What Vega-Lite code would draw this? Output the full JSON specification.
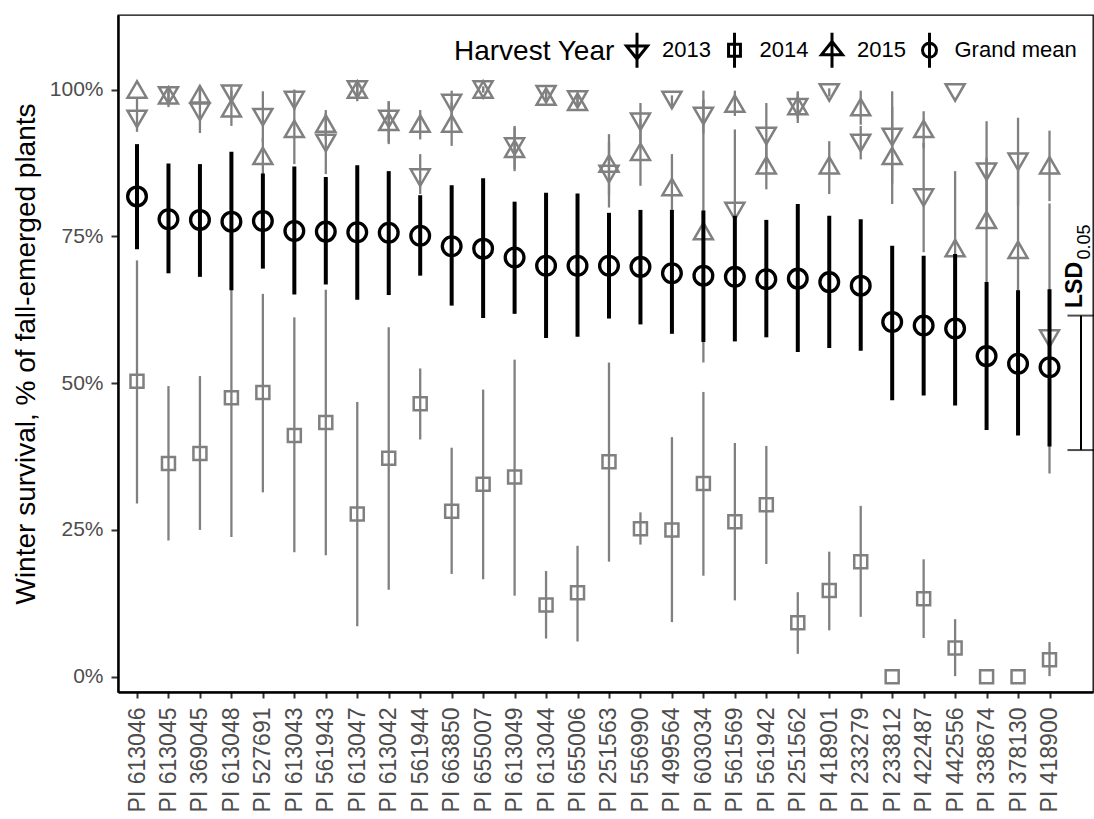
{
  "$schema": "https://vega.github.io/schema/vega-lite/v6.json",
  "width": 975,
  "height": 677,
  "autosize": {"type": "none"},
  "padding": {"left": 118, "top": 15, "right": 1, "bottom": 127},
  "background": "white",
  "config": {
    "font": "Liberation Sans",
    "view": {"stroke": "black", "strokeWidth": 1.3},
    "axis": {"grid": false, "domainColor": "black", "domainWidth": 2.5, "tickColor": "#333333", "tickWidth": 2, "labelColor": "#4D4D4D", "titleColor": "black", "titleFontWeight": "normal"},
    "axisX": {"labelAngle": -90, "labelAlign": "right", "labelBaseline": "middle", "labelFontSize": 23, "tickSize": 6, "labelPadding": 9},
    "axisY": {"labelFontSize": 21, "tickSize": 7, "labelPadding": 8, "titleFontSize": 28, "titlePadding": 9}
  },
  "datasets": {
    "pts": [
      {"pos":1,"acc":"PI 613046","series":"2013","v":95.0,"lo":92.8,"hi":98.5},
      {"pos":1,"acc":"PI 613046","series":"2014","v":50.3,"lo":29.5,"hi":70.9},
      {"pos":1,"acc":"PI 613046","series":"2015","v":100,"lo":100,"hi":100},
      {"pos":1,"acc":"PI 613046","series":"Grand mean","v":81.8,"lo":72.8,"hi":90.7},
      {"pos":2,"acc":"PI 613045","series":"2013","v":99.0,"lo":97.0,"hi":100.5},
      {"pos":2,"acc":"PI 613045","series":"2014","v":36.3,"lo":23.2,"hi":49.5},
      {"pos":2,"acc":"PI 613045","series":"2015","v":99.0,"lo":97.5,"hi":100.3},
      {"pos":2,"acc":"PI 613045","series":"Grand mean","v":77.9,"lo":68.7,"hi":87.4},
      {"pos":3,"acc":"PI 369045","series":"2013","v":96.2,"lo":92.6,"hi":99.8},
      {"pos":3,"acc":"PI 369045","series":"2014","v":38.0,"lo":25.0,"hi":51.2},
      {"pos":3,"acc":"PI 369045","series":"2015","v":99.2,"lo":97.5,"hi":100.6},
      {"pos":3,"acc":"PI 369045","series":"Grand mean","v":77.8,"lo":68.1,"hi":87.3},
      {"pos":4,"acc":"PI 613048","series":"2013","v":99.3,"lo":98.0,"hi":100.5},
      {"pos":4,"acc":"PI 613048","series":"2014","v":47.5,"lo":23.8,"hi":71.2},
      {"pos":4,"acc":"PI 613048","series":"2015","v":96.8,"lo":93.8,"hi":99.8},
      {"pos":4,"acc":"PI 613048","series":"Grand mean","v":77.5,"lo":65.8,"hi":89.4},
      {"pos":5,"acc":"PI 527691","series":"2013","v":95.3,"lo":91.0,"hi":99.7},
      {"pos":5,"acc":"PI 527691","series":"2014","v":48.4,"lo":31.4,"hi":65.2},
      {"pos":5,"acc":"PI 527691","series":"2015","v":88.7,"lo":85.6,"hi":91.8},
      {"pos":5,"acc":"PI 527691","series":"Grand mean","v":77.6,"lo":69.5,"hi":85.7},
      {"pos":6,"acc":"PI 613043","series":"2013","v":98.2,"lo":96.5,"hi":100.0},
      {"pos":6,"acc":"PI 613043","series":"2014","v":41.1,"lo":21.2,"hi":61.2},
      {"pos":6,"acc":"PI 613043","series":"2015","v":93.3,"lo":87.3,"hi":99.3},
      {"pos":6,"acc":"PI 613043","series":"Grand mean","v":75.9,"lo":65.1,"hi":86.9},
      {"pos":7,"acc":"PI 561943","series":"2013","v":90.9,"lo":85.6,"hi":96.0},
      {"pos":7,"acc":"PI 561943","series":"2014","v":43.3,"lo":20.7,"hi":65.9},
      {"pos":7,"acc":"PI 561943","series":"2015","v":94.2,"lo":91.5,"hi":96.5},
      {"pos":7,"acc":"PI 561943","series":"Grand mean","v":75.8,"lo":66.8,"hi":85.1},
      {"pos":8,"acc":"PI 613047","series":"2013","v":100,"lo":98.0,"hi":101.5},
      {"pos":8,"acc":"PI 613047","series":"2014","v":27.7,"lo":8.6,"hi":46.8},
      {"pos":8,"acc":"PI 613047","series":"2015","v":100,"lo":98.5,"hi":101.0},
      {"pos":8,"acc":"PI 613047","series":"Grand mean","v":75.7,"lo":64.2,"hi":87.1},
      {"pos":9,"acc":"PI 613042","series":"2013","v":95.0,"lo":91.0,"hi":98.0},
      {"pos":9,"acc":"PI 613042","series":"2014","v":37.2,"lo":14.8,"hi":59.5},
      {"pos":9,"acc":"PI 613042","series":"2015","v":94.5,"lo":90.7,"hi":98.0},
      {"pos":9,"acc":"PI 613042","series":"Grand mean","v":75.6,"lo":65.0,"hi":86.1},
      {"pos":10,"acc":"PI 561944","series":"2013","v":85.0,"lo":82.2,"hi":89.0},
      {"pos":10,"acc":"PI 561944","series":"2014","v":46.5,"lo":40.4,"hi":52.5},
      {"pos":10,"acc":"PI 561944","series":"2015","v":94.2,"lo":91.5,"hi":96.5},
      {"pos":10,"acc":"PI 561944","series":"Grand mean","v":75.1,"lo":68.3,"hi":82.0},
      {"pos":11,"acc":"PI 663850","series":"2013","v":97.7,"lo":95.5,"hi":99.8},
      {"pos":11,"acc":"PI 663850","series":"2014","v":28.2,"lo":17.5,"hi":39.0},
      {"pos":11,"acc":"PI 663850","series":"2015","v":94.2,"lo":90.4,"hi":97.8},
      {"pos":11,"acc":"PI 663850","series":"Grand mean","v":73.3,"lo":63.2,"hi":83.7},
      {"pos":12,"acc":"PI 655007","series":"2013","v":100,"lo":99.5,"hi":100.5},
      {"pos":12,"acc":"PI 655007","series":"2014","v":32.8,"lo":16.6,"hi":48.9},
      {"pos":12,"acc":"PI 655007","series":"2015","v":100,"lo":99.5,"hi":100.5},
      {"pos":12,"acc":"PI 655007","series":"Grand mean","v":72.9,"lo":61.1,"hi":84.9},
      {"pos":13,"acc":"PI 613049","series":"2013","v":90.3,"lo":86.1,"hi":93.8},
      {"pos":13,"acc":"PI 613049","series":"2014","v":34.0,"lo":13.8,"hi":54.0},
      {"pos":13,"acc":"PI 613049","series":"2015","v":89.9,"lo":86.5,"hi":93.5},
      {"pos":13,"acc":"PI 613049","series":"Grand mean","v":71.4,"lo":61.8,"hi":80.9},
      {"pos":14,"acc":"PI 613044","series":"2013","v":99.2,"lo":98.0,"hi":100.0},
      {"pos":14,"acc":"PI 613044","series":"2014","v":12.2,"lo":6.5,"hi":18.0},
      {"pos":14,"acc":"PI 613044","series":"2015","v":98.8,"lo":98.0,"hi":99.8},
      {"pos":14,"acc":"PI 613044","series":"Grand mean","v":70.0,"lo":57.7,"hi":82.4},
      {"pos":15,"acc":"PI 655006","series":"2013","v":98.3,"lo":97.0,"hi":99.5},
      {"pos":15,"acc":"PI 655006","series":"2014","v":14.3,"lo":6.0,"hi":22.3},
      {"pos":15,"acc":"PI 655006","series":"2015","v":97.9,"lo":97.0,"hi":99.0},
      {"pos":15,"acc":"PI 655006","series":"Grand mean","v":70.0,"lo":57.9,"hi":82.3},
      {"pos":16,"acc":"PI 251563","series":"2013","v":85.6,"lo":79.9,"hi":91.0},
      {"pos":16,"acc":"PI 251563","series":"2014","v":36.6,"lo":19.6,"hi":53.5},
      {"pos":16,"acc":"PI 251563","series":"2015","v":87.4,"lo":82.0,"hi":92.4},
      {"pos":16,"acc":"PI 251563","series":"Grand mean","v":70.0,"lo":61.0,"hi":79.0},
      {"pos":17,"acc":"PI 556990","series":"2013","v":94.5,"lo":91.0,"hi":97.7},
      {"pos":17,"acc":"PI 556990","series":"2014","v":25.2,"lo":22.5,"hi":28.0},
      {"pos":17,"acc":"PI 556990","series":"2015","v":89.4,"lo":83.6,"hi":95.0},
      {"pos":17,"acc":"PI 556990","series":"Grand mean","v":69.8,"lo":60.0,"hi":79.5},
      {"pos":18,"acc":"PI 499564","series":"2013","v":98.2,"lo":97.0,"hi":99.0},
      {"pos":18,"acc":"PI 499564","series":"2014","v":25.0,"lo":9.3,"hi":40.8},
      {"pos":18,"acc":"PI 499564","series":"2015","v":83.4,"lo":77.8,"hi":89.0},
      {"pos":18,"acc":"PI 499564","series":"Grand mean","v":68.7,"lo":58.4,"hi":79.5},
      {"pos":19,"acc":"PI 603034","series":"2013","v":95.5,"lo":92.5,"hi":99.8},
      {"pos":19,"acc":"PI 603034","series":"2014","v":32.9,"lo":17.2,"hi":48.5},
      {"pos":19,"acc":"PI 603034","series":"2015","v":75.9,"lo":53.5,"hi":98.3},
      {"pos":19,"acc":"PI 603034","series":"Grand mean","v":68.3,"lo":57.0,"hi":79.4},
      {"pos":20,"acc":"PI 561569","series":"2013","v":79.3,"lo":65.4,"hi":93.2},
      {"pos":20,"acc":"PI 561569","series":"2014","v":26.4,"lo":13.0,"hi":39.8},
      {"pos":20,"acc":"PI 561569","series":"2015","v":97.6,"lo":95.5,"hi":99.8},
      {"pos":20,"acc":"PI 561569","series":"Grand mean","v":68.1,"lo":57.1,"hi":78.5},
      {"pos":21,"acc":"PI 561942","series":"2013","v":92.1,"lo":86.5,"hi":97.7},
      {"pos":21,"acc":"PI 561942","series":"2014","v":29.3,"lo":19.2,"hi":39.3},
      {"pos":21,"acc":"PI 561942","series":"2015","v":87.1,"lo":83.0,"hi":91.5},
      {"pos":21,"acc":"PI 561942","series":"Grand mean","v":67.7,"lo":57.8,"hi":77.8},
      {"pos":22,"acc":"PI 251562","series":"2013","v":97.0,"lo":94.3,"hi":99.7},
      {"pos":22,"acc":"PI 251562","series":"2014","v":9.2,"lo":3.9,"hi":14.4},
      {"pos":22,"acc":"PI 251562","series":"2015","v":97.2,"lo":95.0,"hi":99.5},
      {"pos":22,"acc":"PI 251562","series":"Grand mean","v":67.8,"lo":55.3,"hi":80.5},
      {"pos":23,"acc":"PI 418901","series":"2013","v":99.5,"lo":98.8,"hi":100.2},
      {"pos":23,"acc":"PI 418901","series":"2014","v":14.7,"lo":7.9,"hi":21.3},
      {"pos":23,"acc":"PI 418901","series":"2015","v":87.1,"lo":82.2,"hi":91.2},
      {"pos":23,"acc":"PI 418901","series":"Grand mean","v":67.2,"lo":56.0,"hi":78.5},
      {"pos":24,"acc":"PI 233279","series":"2013","v":90.9,"lo":88.1,"hi":93.8},
      {"pos":24,"acc":"PI 233279","series":"2014","v":19.6,"lo":10.2,"hi":29.1},
      {"pos":24,"acc":"PI 233279","series":"2015","v":97.0,"lo":94.0,"hi":99.8},
      {"pos":24,"acc":"PI 233279","series":"Grand mean","v":66.6,"lo":55.5,"hi":77.9},
      {"pos":25,"acc":"PI 233812","series":"2013","v":91.9,"lo":84.0,"hi":99.7},
      {"pos":25,"acc":"PI 233812","series":"2014","v":0,"lo":0,"hi":0},
      {"pos":25,"acc":"PI 233812","series":"2015","v":88.7,"lo":80.5,"hi":97.0},
      {"pos":25,"acc":"PI 233812","series":"Grand mean","v":60.4,"lo":47.1,"hi":73.4},
      {"pos":26,"acc":"PI 422487","series":"2013","v":81.6,"lo":72.3,"hi":90.9},
      {"pos":26,"acc":"PI 422487","series":"2014","v":13.3,"lo":6.6,"hi":20.0},
      {"pos":26,"acc":"PI 422487","series":"2015","v":93.3,"lo":90.0,"hi":96.3},
      {"pos":26,"acc":"PI 422487","series":"Grand mean","v":59.8,"lo":47.9,"hi":71.7},
      {"pos":27,"acc":"PI 442556","series":"2013","v":99.5,"lo":99.5,"hi":99.5},
      {"pos":27,"acc":"PI 442556","series":"2014","v":4.9,"lo":0.1,"hi":9.8},
      {"pos":27,"acc":"PI 442556","series":"2015","v":73.0,"lo":59.9,"hi":86.1},
      {"pos":27,"acc":"PI 442556","series":"Grand mean","v":59.3,"lo":46.2,"hi":72.0},
      {"pos":28,"acc":"PI 338674","series":"2013","v":86.0,"lo":77.5,"hi":94.6},
      {"pos":28,"acc":"PI 338674","series":"2014","v":0,"lo":0,"hi":0},
      {"pos":28,"acc":"PI 338674","series":"2015","v":77.8,"lo":67.2,"hi":88.4},
      {"pos":28,"acc":"PI 338674","series":"Grand mean","v":54.6,"lo":42.0,"hi":67.2},
      {"pos":29,"acc":"PI 378130","series":"2013","v":87.7,"lo":80.2,"hi":95.2},
      {"pos":29,"acc":"PI 378130","series":"2014","v":0,"lo":0,"hi":0},
      {"pos":29,"acc":"PI 378130","series":"2015","v":72.7,"lo":59.0,"hi":86.4},
      {"pos":29,"acc":"PI 378130","series":"Grand mean","v":53.3,"lo":41.1,"hi":65.8},
      {"pos":30,"acc":"PI 418900","series":"2013","v":57.6,"lo":34.6,"hi":80.6},
      {"pos":30,"acc":"PI 418900","series":"2014","v":2.9,"lo":0.1,"hi":5.9},
      {"pos":30,"acc":"PI 418900","series":"2015","v":87.1,"lo":81.0,"hi":93.0},
      {"pos":30,"acc":"PI 418900","series":"Grand mean","v":52.7,"lo":39.2,"hi":66.0}
    ],
    "lsd": [{"pos": 31, "lo": 38.6, "hi": 61.5, "label": "LSD", "sub": "0.05"}]
  },
  "encoding": {
    "x": {
      "field": "pos", "type": "quantitative",
      "scale": {"domain": [0.396, 31.382], "nice": false, "zero": false},
      "axis": {
        "title": null,
        "values": [1,2,3,4,5,6,7,8,9,10,11,12,13,14,15,16,17,18,19,20,21,22,23,24,25,26,27,28,29,30],
        "labelExpr": "['PI 613046','PI 613045','PI 369045','PI 613048','PI 527691','PI 613043','PI 561943','PI 613047','PI 613042','PI 561944','PI 663850','PI 655007','PI 613049','PI 613044','PI 655006','PI 251563','PI 556990','PI 499564','PI 603034','PI 561569','PI 561942','PI 251562','PI 418901','PI 233279','PI 233812','PI 422487','PI 442556','PI 338674','PI 378130','PI 418900'][datum.value - 1]"
      }
    }
  },
  "layer": [
    {
      "data": {"name": "pts"},
      "mark": {"type": "point", "filled": false, "opacity": 0, "color": "black"},
      "encoding": {
        "y": {"field": "v", "type": "quantitative", "scale": {"domain": [-2.6, 112.69], "nice": false, "zero": false}, "axis": {"title": "Winter survival, % of fall-emerged plants", "values": [0,25,50,75,100], "labelExpr": "datum.value + '%'"}},
        "shape": {
          "field": "series", "type": "nominal",
          "scale": {
            "domain": ["2013", "2014", "2015", "Grand mean"],
            "range": [
              "M0,-1L0,1M-0.6,-0.25L0.6,-0.25L0,0.5Z",
              "M0,-1L0,1M-0.34,-0.34L0.34,-0.34L0.34,0.34L-0.34,0.34Z",
              "M0,-1L0,1M-0.6,0.25L0.6,0.25L0,-0.5Z",
              "M0,-1L0,1M-0.4,0A0.4,0.4 0 1,1 0.4,0A0.4,0.4 0 1,1 -0.4,0Z"
            ]
          },
          "legend": {
            "title": "Harvest Year",
            "orient": "top-right",
            "direction": "horizontal",
            "titleOrient": "left",
            "titleFontSize": 28,
            "titleFontWeight": "normal",
            "titleColor": "black",
            "titleAnchor": "middle",
            "titleBaseline": "middle",
            "titlePadding": 3,
            "labelFontSize": 22,
            "labelColor": "black",
            "labelOffset": 6,
            "columnPadding": 4.5,
            "symbolSize": 1225,
            "symbolStrokeWidth": 3,
            "symbolStrokeColor": "black",
            "symbolOpacity": 1,
            "offset": 16,
            "padding": 0,
            "encode": {"symbols": {"update": {"opacity": {"value": 1}, "stroke": {"value": "black"}, "strokeWidth": {"value": 3}}}}
          }
        }
      }
    },
    {
      "data": {"name": "pts"},
      "transform": [{"filter": "datum.series != 'Grand mean'"}],
      "mark": {"type": "rule", "color": "#808080", "strokeWidth": 2.3},
      "encoding": {
        "y": {"field": "lo", "type": "quantitative", "scale": {"domain": [-2.6, 112.69], "nice": false, "zero": false}, "axis": {"title": "Winter survival, % of fall-emerged plants", "values": [0,25,50,75,100], "labelExpr": "datum.value + '%'"}},
        "y2": {"field": "hi"}
      }
    },
    {
      "data": {"name": "pts"},
      "transform": [{"filter": "datum.series == '2013' || datum.series == '2015'"}],
      "mark": {"type": "point", "filled": false, "color": "#808080", "strokeWidth": 2.5, "size": 361, "opacity": 1},
      "encoding": {
        "y": {"field": "v", "type": "quantitative", "scale": {"domain": [-2.6, 112.69], "nice": false, "zero": false}, "axis": {"title": "Winter survival, % of fall-emerged plants", "values": [0,25,50,75,100], "labelExpr": "datum.value + '%'"}},
        "shape": {"field": "series", "type": "nominal", "scale": {"domain": ["2013", "2015"], "range": ["triangle-down", "triangle-up"]}, "legend": null}
      }
    },
    {
      "data": {"name": "pts"},
      "transform": [{"filter": "datum.series == '2014'"}],
      "mark": {"type": "point", "shape": "square", "filled": false, "color": "#808080", "strokeWidth": 2.5, "size": 169, "opacity": 1},
      "encoding": {
        "y": {"field": "v", "type": "quantitative", "scale": {"domain": [-2.6, 112.69], "nice": false, "zero": false}, "axis": {"title": "Winter survival, % of fall-emerged plants", "values": [0,25,50,75,100], "labelExpr": "datum.value + '%'"}}
      }
    },
    {
      "data": {"name": "pts"},
      "transform": [{"filter": "datum.series == 'Grand mean'"}],
      "mark": {"type": "rule", "color": "black", "strokeWidth": 4},
      "encoding": {
        "y": {"field": "lo", "type": "quantitative", "scale": {"domain": [-2.6, 112.69], "nice": false, "zero": false}, "axis": {"title": "Winter survival, % of fall-emerged plants", "values": [0,25,50,75,100], "labelExpr": "datum.value + '%'"}},
        "y2": {"field": "hi"}
      }
    },
    {
      "data": {"name": "pts"},
      "transform": [{"filter": "datum.series == 'Grand mean'"}],
      "mark": {"type": "point", "shape": "circle", "filled": false, "color": "black", "strokeWidth": 3.3, "size": 350, "opacity": 1},
      "encoding": {
        "y": {"field": "v", "type": "quantitative", "scale": {"domain": [-2.6, 112.69], "nice": false, "zero": false}, "axis": {"title": "Winter survival, % of fall-emerged plants", "values": [0,25,50,75,100], "labelExpr": "datum.value + '%'"}}
      }
    },
    {
      "data": {"name": "lsd"},
      "mark": {"type": "rule", "color": "black", "strokeWidth": 2},
      "encoding": {
        "y": {"field": "lo", "type": "quantitative", "scale": {"domain": [-2.6, 112.69], "nice": false, "zero": false}, "axis": {"title": "Winter survival, % of fall-emerged plants", "values": [0,25,50,75,100], "labelExpr": "datum.value + '%'"}},
        "y2": {"field": "hi"}
      }
    },
    {
      "data": {"name": "lsd"},
      "mark": {"type": "tick", "orient": "horizontal", "color": "black", "size": 27, "thickness": 2},
      "encoding": {
        "y": {"field": "lo", "type": "quantitative", "scale": {"domain": [-2.6, 112.69], "nice": false, "zero": false}, "axis": {"title": "Winter survival, % of fall-emerged plants", "values": [0,25,50,75,100], "labelExpr": "datum.value + '%'"}}
      }
    },
    {
      "data": {"name": "lsd"},
      "mark": {"type": "tick", "orient": "horizontal", "color": "black", "size": 27, "thickness": 2},
      "encoding": {
        "y": {"field": "hi", "type": "quantitative", "scale": {"domain": [-2.6, 112.69], "nice": false, "zero": false}, "axis": {"title": "Winter survival, % of fall-emerged plants", "values": [0,25,50,75,100], "labelExpr": "datum.value + '%'"}}
      }
    },
    {
      "data": {"name": "lsd"},
      "mark": {"type": "text", "angle": 270, "align": "left", "baseline": "alphabetic", "dx": 7.6, "dy": 1, "fontSize": 23, "fontWeight": "bold", "color": "black"},
      "encoding": {
        "y": {"field": "hi", "type": "quantitative", "scale": {"domain": [-2.6, 112.69], "nice": false, "zero": false}, "axis": {"title": "Winter survival, % of fall-emerged plants", "values": [0,25,50,75,100], "labelExpr": "datum.value + '%'"}},
        "text": {"field": "label"}
      }
    },
    {
      "data": {"name": "lsd"},
      "mark": {"type": "text", "angle": 270, "align": "left", "baseline": "alphabetic", "dx": 56, "dy": 9, "fontSize": 18, "color": "black"},
      "encoding": {
        "y": {"field": "hi", "type": "quantitative", "scale": {"domain": [-2.6, 112.69], "nice": false, "zero": false}, "axis": {"title": "Winter survival, % of fall-emerged plants", "values": [0,25,50,75,100], "labelExpr": "datum.value + '%'"}},
        "text": {"field": "sub"}
      }
    }
  ],
  "resolve": {"scale": {"shape": "independent"}}
}
